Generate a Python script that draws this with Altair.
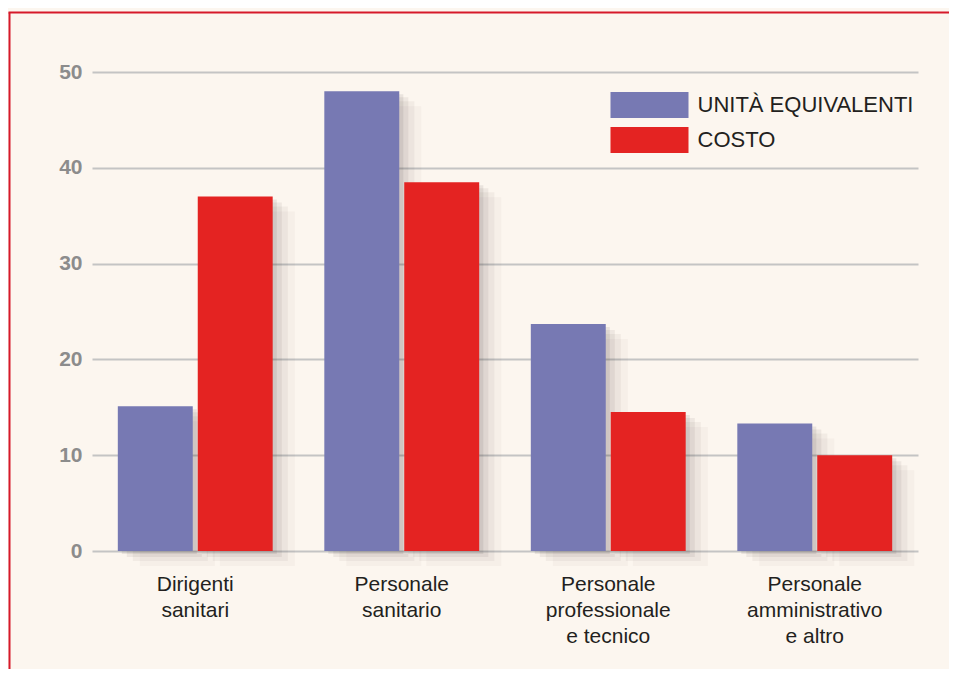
import altair as alt
import pandas as pd

categories = ["Dirigenti|sanitari", "Personale|sanitario",
              "Personale|professionale|e tecnico", "Personale|amministrativo|e altro"]
series = ["UNITÀ EQUIVALENTI", "COSTO"]
unita = [15.1, 48.0, 23.7, 13.3]
costo = [37.0, 38.5, 14.5, 10.0]
colors = ["#7779b3", "#e42322"]
y_ticks = [0, 10, 20, 30, 40, 50]

rows = []
for c, u, k in zip(categories, unita, costo):
    rows.append({"cat": c, "serie": series[0], "val": u})
    rows.append({"cat": c, "serie": series[1], "val": k})
df = pd.DataFrame(rows)

x_enc = alt.X("cat:N", sort=categories,
              scale=alt.Scale(paddingInner=0.25, paddingOuter=0.125),
              axis=alt.Axis(title=None, labelExpr="split(datum.value, '|')", labelAngle=0,
                            domain=False, ticks=False, labelFontSize=21, labelLineHeight=26,
                            labelPadding=22, labelColor="#231f20", labelBaseline="top"))
y_enc = alt.Y("val:Q", scale=alt.Scale(domain=[0, 50], nice=False),
              axis=alt.Axis(values=y_ticks, title=None, domain=False, ticks=False,
                            labelFontSize=21, labelFontWeight="bold", labelColor="#8c8c8c",
                            labelPadding=10, gridColor="#c4c4c4", gridWidth=2))


def shadow(dx, dy, op):
    return alt.Chart(df).mark_bar(color="#3a2a2a", opacity=op, yOffset=dy).encode(
        x=x_enc,
        xOffset=alt.XOffset("serie:N", sort=series,
                            scale=alt.Scale(range=[dx, 155 + dx], paddingInner=0.0625, paddingOuter=0)),
        y=y_enc)


bars = alt.Chart(df).mark_bar().encode(
    x=x_enc,
    xOffset=alt.XOffset("serie:N", sort=series, scale=alt.Scale(paddingInner=0.0625, paddingOuter=0)),
    y=y_enc,
    color=alt.Color("serie:N", sort=series, scale=alt.Scale(domain=series, range=colors),
                    legend=alt.Legend(orient="none", legendX=518.5, legendY=20, title=None,
                                      symbolType="M-1,-1H5V1H-1Z", symbolSize=676,
                                      symbolStrokeWidth=0, symbolOpacity=1,
                                      labelFontSize=22, labelColor="#231f20", labelLimit=400,
                                      labelOffset=61, rowPadding=9)),
)

one = pd.DataFrame({"a": [0]})
left_border = alt.Chart(one).mark_rule(color="#d6192a", strokeWidth=2).encode(
    x=alt.value(-82.5), y=alt.value(-59.5), y2=alt.value(700))
top_border = alt.Chart(one).mark_rule(color="#d6192a", strokeWidth=2).encode(
    x=alt.value(-83.5), x2=alt.value(900), y=alt.value(-59.5))

chart = alt.layer(shadow(22, 15, 0.03), shadow(15, 10, 0.05), shadow(9, 6, 0.07), shadow(4, 3, 0.09),
                  bars, left_border, top_border).resolve_scale(xOffset="independent").properties(
    width=826, height=479,
    autosize=alt.AutoSizeParams(type="none"),
    padding={"left": 84, "top": 64, "right": 31, "bottom": 118},
    background="#fcf6ef",
).configure(font="Liberation Sans").configure_view(stroke=None)

chart.save("out.html", embed_options={"renderer": "svg", "actions": False})
